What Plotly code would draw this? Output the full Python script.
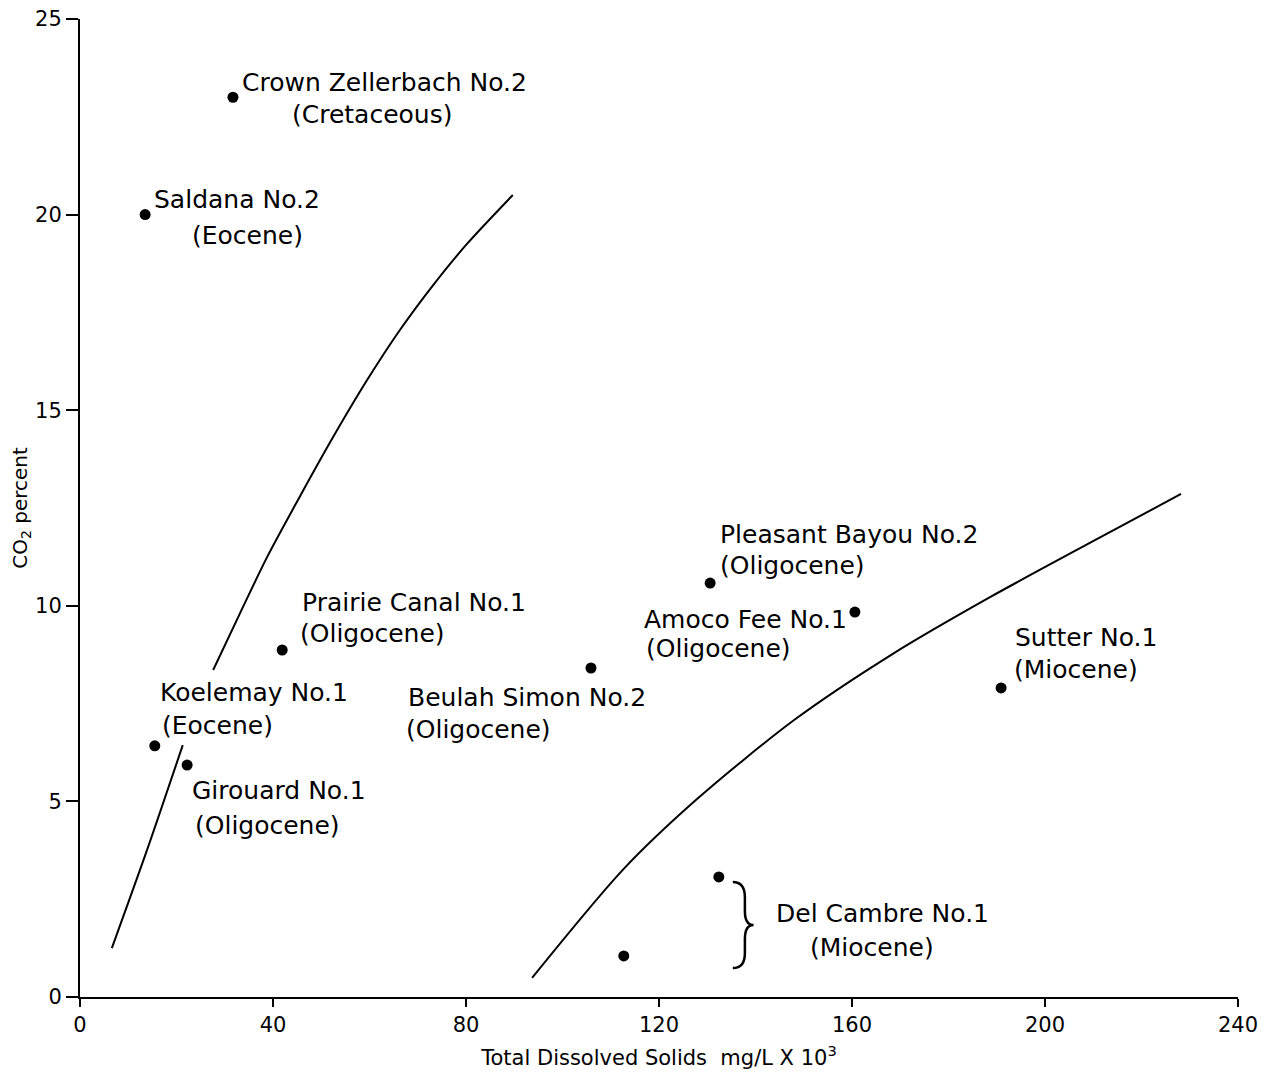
import plotly.graph_objects as go

# ---- data ----
well_names = ["Crown Zellerbach No.2", "Saldana No.2", "Prairie Canal No.1", "Koelemay No.1",
              "Girouard No.1", "Beulah Simon No.2", "Pleasant Bayou No.2", "Amoco Fee No.1",
              "Sutter No.1", "Del Cambre No.1", "Del Cambre No.1"]
well_ages = ["(Cretaceous)", "(Eocene)", "(Oligocene)", "(Eocene)", "(Oligocene)", "(Oligocene)",
             "(Oligocene)", "(Oligocene)", "(Miocene)", "(Miocene)", "(Miocene)"]
tds = [31.7, 13.5, 41.9, 15.5, 22.2, 105.9, 130.6, 160.6, 190.9, 132.4, 112.7]
co2 = [23.0, 20.0, 8.87, 6.42, 5.93, 8.41, 10.58, 9.84, 7.90, 3.07, 1.05]

left_lower_x = [6.6, 13.9, 21.3]
left_lower_y = [1.25, 3.76, 6.44]
left_upper_x = [27.6, 33.2, 38.8, 45.6, 52.4, 59.5, 66.3, 73.2, 80.2, 89.7]
left_upper_y = [8.36, 9.82, 11.25, 12.8, 14.3, 15.77, 17.05, 18.2, 19.25, 20.5]
right_x = [93.7, 112.5, 127.7, 148.0, 168.3, 188.6, 208.9, 228.2]
right_y = [0.49, 3.25, 5.04, 7.08, 8.76, 10.22, 11.58, 12.86]

x_ticks = [0, 40, 80, 120, 160, 200, 240]
y_ticks = [0, 5, 10, 15, 20, 25]

FONT = "DejaVu Sans"
fig = go.Figure()

line_style = dict(color="black", width=2, shape="spline", smoothing=0.8)
for xs, ys in [(left_lower_x, left_lower_y), (left_upper_x, left_upper_y), (right_x, right_y)]:
    fig.add_trace(go.Scatter(x=xs, y=ys, mode="lines", line=line_style,
                             hoverinfo="skip", showlegend=False))

fig.add_trace(go.Scatter(x=tds, y=co2, mode="markers",
                         marker=dict(color="black", size=11),
                         text=well_names, showlegend=False))

# label offsets (pixels): (dx1, dy1, dx2, dy2); None = no label
offsets = [(7, 15, 57, -17), (7, 15, 45, -21), (18, 48, 16, 17), (3, 53, 5, 20),
           (3, -25, 6, -60), (-185, -29, -187, -61), (8, 49, 8, 18), (-213, -7, -211, -36),
           (12, 50, 11, 18), (55, -37, 89, -71), None]

lab_font = dict(family=FONT, size=25, color="black")
for i, off in enumerate(offsets):
    if off is None:
        continue
    dx1, dy1, dx2, dy2 = off
    fig.add_annotation(x=tds[i], y=co2[i], text=well_names[i], showarrow=False,
                       xanchor="left", yanchor="middle", xshift=dx1, yshift=dy1, font=lab_font)
    fig.add_annotation(x=tds[i], y=co2[i], text=well_ages[i], showarrow=False,
                       xanchor="left", yanchor="middle", xshift=dx2, yshift=dy2, font=lab_font)

# curly brace grouping the two Del Cambre points
fig.add_shape(type="path",
              path="M 135.3,2.94 Q 137.8,2.94 137.8,2.55 L 137.8,2.2 Q 137.8,1.84 139.6,1.84 "
                   "Q 137.8,1.84 137.8,1.48 L 137.8,1.12 Q 137.8,0.74 135.3,0.74",
              xref="x", yref="y", line=dict(color="black", width=2.5))

axis_common = dict(showline=True, linecolor="black", linewidth=2, ticks="outside",
                   tickcolor="black", tickwidth=2, showgrid=False, zeroline=False,
                   automargin=False, ticklabeloverflow="allow",
                   tickfont=dict(family=FONT, size=21, color="black"))

fig.update_xaxes(range=[0, 240], tickvals=x_ticks, ticktext=[str(v) for v in x_ticks],
                 ticklen=8, title=dict(text="Total Dissolved Solids  mg/L X 10<sup>3</sup>",
                                       font=dict(family=FONT, size=21, color="black"), standoff=14),
                 **axis_common)
fig.update_yaxes(range=[0, 25], tickvals=y_ticks, ticktext=[str(v) for v in y_ticks],
                 ticklen=12, title=dict(text="CO<sub>2</sub> percent",
                                        font=dict(family=FONT, size=20, color="black"), standoff=2),
                 **axis_common)

fig.update_layout(width=1266, height=1078, margin=dict(l=80, r=28, t=19, b=81),
                  plot_bgcolor="white", paper_bgcolor="white", showlegend=False)

# remove the page's default body margin so the figure fills the window exactly
fig.write_html("out.html", config={"displayModeBar": False},
               post_script="document.body.style.margin='0';document.body.style.overflow='hidden';")
